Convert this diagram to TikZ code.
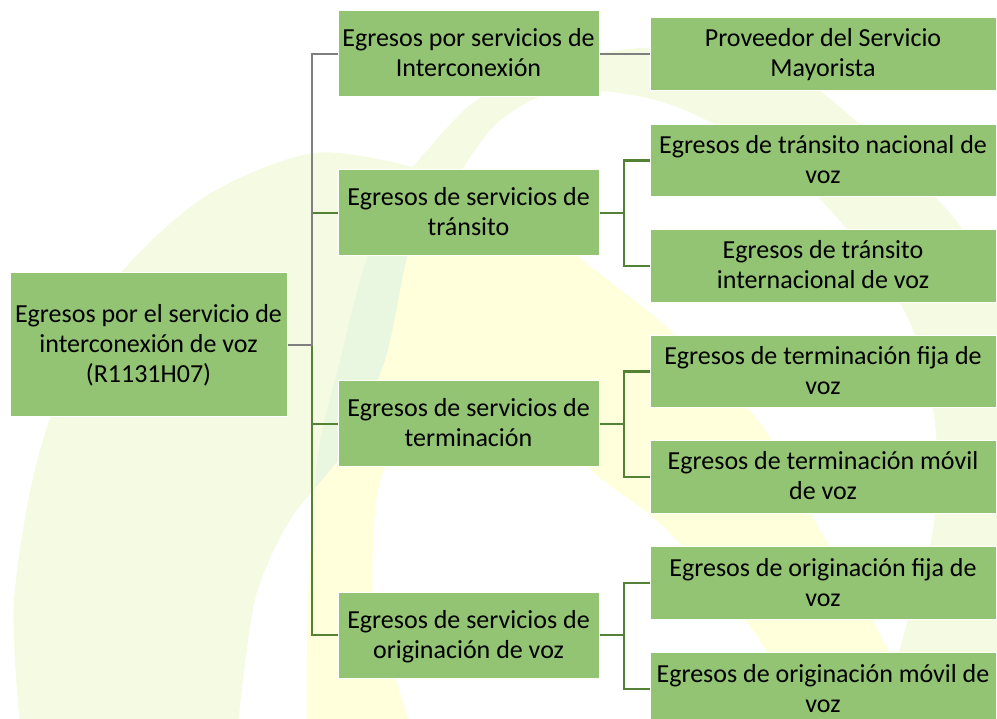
\documentclass[tikz,border=0pt]{standalone}
\usepackage{fontspec}
\setmainfont{Carlito}
\definecolor{boxg}{RGB}{146,196,115}
\definecolor{lineg}{RGB}{84,130,53}
\definecolor{lineq}{RGB}{127,127,127}
\definecolor{wmg}{RGB}{245,251,226}
\definecolor{wmy}{RGB}{255,255,219}
\definecolor{wms}{RGB}{234,247,224}
\tikzset{
  wmgreenpath/.style={insert path={
    plot[smooth] coordinates {(20,725) (14,600) (40,450) (100,300) (200,200) (313,153) (413,167)}
    -- plot[smooth] coordinates {(413,167) (470,105) (540,68) (620,50) (700,48) (780,68) (840,107) (950,213) (1005,300)}
    -- (1040,470) -- (1040,730) -- (880,730)
    -- plot[smooth] coordinates {(880,725) (905,630) (933,530) (935,423) (907,316) (833,213) (760,150) (677,107) (610,92) (545,95) (495,125) (455,180) (425,230) (407,258) (385,360) (345,450) (290,520) (255,600) (238,725)}
    -- cycle}},
  wmyellowpath/.style={insert path={
    plot[smooth] coordinates {(307,725) (308,600) (318,455) (340,360) (367,258) (400,205) (470,185) (540,215) (580,258) (670,330) (760,423) (820,530) (883,640) (925,725)}
    -- plot[smooth] coordinates {(800,725) (757,636) (667,530) (600,478) (540,425) (470,400) (410,425) (378,490) (373,600) (390,660) (410,725)}
    -- cycle}}
}
\begin{document}
\begin{tikzpicture}[x=1pt,y=-1pt,
  box/.style={draw=white, line width=1pt, fill=boxg, align=center,
    font=\fontsize{26}{30}\selectfont, inner sep=0pt, text=black,
    text depth=6pt},
  rootbox/.style={box, minimum width=277, minimum height=144, text height=81pt},
  midbox/.style={box, minimum width=261, minimum height=86, text height=52pt},
  leafbox/.style={box, minimum width=346, minimum height=72.5, text height=52pt},
  gl/.style={draw=lineg, line width=2.8pt},
  gq/.style={draw=lineq, line width=2.2pt}]
\useasboundingbox (0,0) rectangle (997,719);
% watermark
\fill[wmg, wmgreenpath];
\fill[wmy, wmyellowpath];
\begin{scope}
  \clip[wmgreenpath];
  \fill[wms, wmyellowpath];
\end{scope}
% nodes
\node[rootbox] (root) at (148.5,345) {Egresos por el servicio de\\interconexión de voz\\(R1131H07)};
\node[midbox] (a) at (468.5,54) {Egresos por servicios de\\Interconexión};
\node[midbox] (b) at (468.5,213) {Egresos de servicios de\\tránsito};
\node[midbox] (c) at (468.5,424) {Egresos de servicios de\\terminación};
\node[midbox] (d) at (468.5,635) {Egresos de servicios de\\originación de voz};
\node[leafbox] (a1) at (823,54) {Proveedor del Servicio\\Mayorista};
\node[leafbox] (b1) at (823,160.5) {Egresos de tránsito nacional de\\voz};
\node[leafbox] (b2) at (823,266) {Egresos de tránsito\\internacional de voz};
\node[leafbox] (c1) at (823,371.5) {Egresos de terminación fija de\\voz};
\node[leafbox] (c2) at (823,477) {Egresos de terminación móvil\\de voz};
\node[leafbox] (d1) at (823,583) {Egresos de originación fija de\\voz};
\node[leafbox] (d2) at (823,689) {Egresos de originación móvil de\\voz};
% junctions
\coordinate (j0) at (312,345);
\coordinate (jb) at (624,213);
\coordinate (jc) at (624,424);
\coordinate (jd) at (624,635);
% green connectors
\draw[gl] (root.east) -- (j0) |- (b.west);
\draw[gl] (j0) |- (c.west);
\draw[gl] (j0) |- (d.west);
\draw[gl] (b.east) -- (jb) |- (b1.west);
\draw[gl] (jb) |- (b2.west);
\draw[gl] (c.east) -- (jc) |- (c1.west);
\draw[gl] (jc) |- (c2.west);
\draw[gl] (d.east) -- (jd) |- (d1.west);
\draw[gl] (jd) |- (d2.west);
% gray connectors
\draw[gq] (root.east) -- (j0) |- (a.west);
\draw[gq] (a.east) -- (a1.west);
\end{tikzpicture}
\end{document}
